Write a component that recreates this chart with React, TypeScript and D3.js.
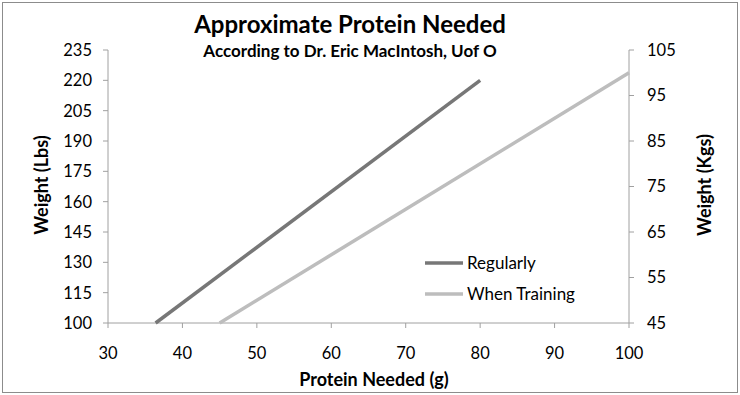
import React from "react";
import * as d3 from "d3";

const regularProtein = [36.4, 80];
const regularWeightLbs = [100, 220];
const trainingProtein = [45, 100];
const trainingWeightKgs = [45, 100];
const xTicks = [30, 40, 50, 60, 70, 80, 90, 100];
const leftTicks = [100, 115, 130, 145, 160, 175, 190, 205, 220, 235];
const rightTicks = [45, 55, 65, 75, 85, 95, 105];
const seriesNames = ["Regularly", "When Training"];
const seriesColors = ["#777777", "#bdbdbd"];

export default function App() {
  const W = 740, H = 395;
  const L = 108, R = 629, T = 50, B = 323;
  const x = d3.scaleLinear().domain([30, 100]).range([L, R]);
  const yL = d3.scaleLinear().domain([100, 235]).range([B, T]);
  const yR = d3.scaleLinear().domain([45, 105]).range([B, T]);
  const line = d3.line<[number, number]>().x(d => d[0]).y(d => d[1]);
  const regPts: [number, number][] = regularProtein.map((p, i) => [x(p), yL(regularWeightLbs[i])]);
  const trPts: [number, number][] = trainingProtein.map((p, i) => [x(p), yR(trainingWeightKgs[i])]);
  const font = "Lato, sans-serif";
  const axisColor = "#a0a0a0";
  return (
    <svg width={W} height={H} style={{ position: "absolute", left: 0, top: 0 }} fontFamily={font}>
      <rect x={0} y={0} width={W} height={H} fill="#fff" />
      <rect x={2.5} y={2.5} width={W - 5} height={H - 5} fill="none" stroke="#8c8c8c" strokeWidth={1} />
      <text x={350} y={33} textAnchor="middle" fontSize={24} fontWeight="bold" fill="#000">Approximate Protein Needed</text>
      <text x={350} y={57} textAnchor="middle" fontSize={17} fontWeight="bold" fill="#000">According to Dr. Eric MacIntosh, Uof O</text>
      {/* axes */}
      <line x1={L} x2={L} y1={T} y2={B} stroke={axisColor} />
      <line x1={R} x2={R} y1={T} y2={B} stroke={axisColor} />
      <line x1={L} x2={R} y1={B} y2={B} stroke={axisColor} />
      {leftTicks.map(t => (
        <g key={"l" + t}>
          <line x1={L - 5} x2={L} y1={yL(t)} y2={yL(t)} stroke={axisColor} />
          <text x={92} y={yL(t)} dy="0.36em" textAnchor="end" fontSize={16.5} fill="#000">{t}</text>
        </g>
      ))}
      {rightTicks.map(t => (
        <g key={"r" + t}>
          <line x1={R} x2={R + 5} y1={yR(t)} y2={yR(t)} stroke={axisColor} />
          <text x={647} y={yR(t)} dy="0.36em" textAnchor="start" fontSize={16.5} fill="#000">{t}</text>
        </g>
      ))}
      {xTicks.map(t => (
        <g key={"x" + t}>
          <line x1={x(t)} x2={x(t)} y1={B} y2={B + 5} stroke={axisColor} />
          <text x={x(t)} y={359} textAnchor="middle" fontSize={16.5} fill="#000">{t}</text>
        </g>
      ))}
      <text transform={`translate(48,185) rotate(-90)`} textAnchor="middle" fontSize={18} fontWeight="bold" fill="#000">Weight (Lbs)</text>
      <text transform={`translate(711,185) rotate(-90)`} textAnchor="middle" fontSize={18} fontWeight="bold" fill="#000">Weight (Kgs)</text>
      <text x={374} y={386} textAnchor="middle" fontSize={18} fontWeight="bold" fill="#000">Protein Needed (g)</text>
      <path d={line(regPts) || ""} fill="none" stroke={seriesColors[0]} strokeWidth={3.5} />
      <path d={line(trPts) || ""} fill="none" stroke={seriesColors[1]} strokeWidth={3.5} />
      {seriesNames.map((n, i) => (
        <g key={n}>
          <line x1={425} x2={463} y1={263 + i * 31} y2={263 + i * 31} stroke={seriesColors[i]} strokeWidth={3.5} />
          <text x={467} y={263 + i * 31} dy="0.36em" fontSize={17} fill="#000">{n}</text>
        </g>
      ))}
    </svg>
  );
}
